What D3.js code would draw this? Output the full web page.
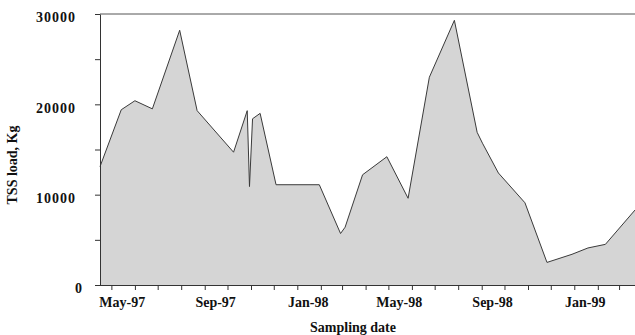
<!DOCTYPE html>
<html>
<head>
<meta charset="utf-8">
<script src="https://cdn.jsdelivr.net/npm/d3@7"></script>
<style>
  body { margin: 0; background: #fff; }
  svg text { font-family: "Liberation Serif", "DejaVu Serif", serif; font-weight: bold; fill: #111; }
</style>
</head>
<body>
<svg id="chart" width="635" height="335"></svg>
<script>
// sampling dates and TSS load (kg)
const sampleDates = [
  "1997-04-16", "1997-05-14", "1997-06-01", "1997-06-24", "1997-07-30", "1997-08-22",
  "1997-10-09", "1997-10-27", "1997-10-30", "1997-11-03", "1997-11-13", "1997-12-04",
  "1998-01-30", "1998-02-27", "1998-03-05", "1998-03-28", "1998-04-29", "1998-05-27",
  "1998-06-24", "1998-07-27", "1998-08-26", "1998-09-02", "1998-09-23", "1998-10-28",
  "1998-11-26", "1998-12-29", "1999-01-19", "1999-02-11", "1999-03-22"
];
const tssLoad = [
  13100, 19400, 20400, 19500, 28200, 19300,
  14700, 19300, 10900, 18400, 19000, 11100,
  11100, 5700, 6400, 12200, 14200, 9600,
  23000, 29300, 16900, 15700, 12400, 9100,
  2500, 3400, 4100, 4500, 8300
];
const xTickLabels = ["May-97", "Sep-97", "Jan-98", "May-98", "Sep-98", "Jan-99"];
const yTicks = [0, 5000, 10000, 15000, 20000, 25000, 30000];

const parseDate = d3.timeParse("%Y-%m-%d");
const parseLabel = d3.timeParse("%b-%y");
const data = sampleDates.map((d, i) => ({ date: parseDate(d), value: tssLoad[i] }));

const plotLeft = 100, plotRight = 635, plotTop = 14, plotBottom = 285;
const svg = d3.select('#chart');

const x = d3.scaleTime()
    .domain([parseDate(sampleDates[0]), parseDate(sampleDates[sampleDates.length - 1])])
    .range([plotLeft, plotRight]);
const y = d3.scaleLinear()
    .domain([0, 30000])
    .range([plotBottom, plotTop]);

// filled area
const area = d3.area()
    .x(d => x(d.date))
    .y0(y(0))
    .y1(d => y(d.value));
svg.append('path')
    .datum(data)
    .attr('d', area)
    .attr('fill', '#d5d5d5');

const line = d3.line()
    .x(d => x(d.date))
    .y(d => y(d.value));
svg.append('path')
    .datum(data)
    .attr('d', line)
    .attr('fill', 'none')
    .attr('stroke', '#3a3a3a')
    .attr('stroke-width', 1);

// top frame line
svg.append('line')
    .attr('x1', plotLeft).attr('x2', plotRight)
    .attr('y1', y(30000)).attr('y2', y(30000))
    .attr('stroke', '#555')
    .attr('stroke-width', 1);

// y axis
const yAxis = svg.append('g')
    .attr('transform', `translate(${plotLeft},0)`)
    .call(d3.axisLeft(y).tickValues(yTicks).tickSize(5).tickSizeOuter(0)
        .tickFormat(d => d % 10000 ? '' : d));
yAxis.select('.domain').attr('stroke', '#333');
yAxis.selectAll('.tick line').attr('stroke', '#333');
yAxis.selectAll('.tick text')
    .attr('x', d => d === 0 ? -17 : -24)
    .attr('dy', '0.55em')
    .style('font-size', '14px')
    .style('letter-spacing', '1px');

// x axis: monthly ticks
const xAxis = svg.append('g')
    .attr('transform', `translate(0,${plotBottom})`)
    .call(d3.axisBottom(x).ticks(d3.timeMonth.every(1)).tickSize(5).tickSizeOuter(0).tickFormat(''));
xAxis.select('.domain').attr('d', `M${plotLeft - 5},0.5H${plotRight}`).attr('stroke', '#333');
xAxis.selectAll('.tick line').attr('stroke', '#333');

// x labels centred in their month
const labelDates = xTickLabels.map(s => d3.timeDay.offset(parseLabel(s), 15));
const xLabels = svg.append('g')
    .attr('transform', `translate(0,${plotBottom})`)
    .call(d3.axisBottom(x).tickValues(labelDates).tickSize(0).tickPadding(12)
        .tickFormat(d3.timeFormat('%b-%y')));
xLabels.select('.domain').remove();
xLabels.selectAll('.tick text')
    .attr('dx', '-1px')
    .style('font-size', '14px');

// axis titles
svg.append('text')
    .attr('x', 353)
    .attr('y', 332)
    .attr('text-anchor', 'middle')
    .style('font-size', '14px')
    .text('Sampling date');

svg.append('text')
    .attr('transform', 'translate(16.5,165) rotate(-90)')
    .attr('text-anchor', 'middle')
    .style('font-size', '14px')
    .text('TSS load, Kg');
</script>
</body>
</html>
